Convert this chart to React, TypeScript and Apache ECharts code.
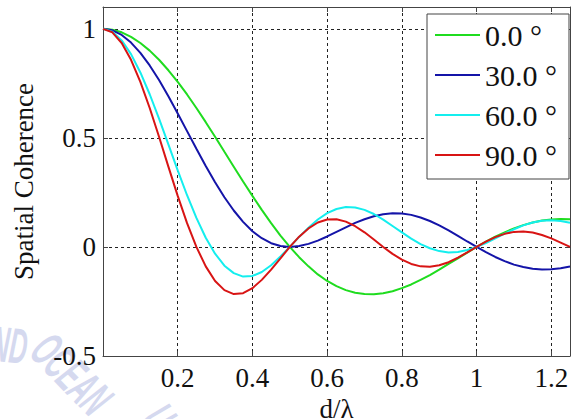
import React, { useEffect, useRef } from "react";
import * as echarts from "echarts";

const dLambda = [
  0, 0.025, 0.05, 0.075, 0.1, 0.125, 0.15, 0.175, 0.2, 0.225, 0.25, 0.275, 0.3, 0.325, 0.35, 0.375,
  0.4, 0.425, 0.45, 0.475, 0.5, 0.525, 0.55, 0.575, 0.6, 0.625, 0.65, 0.675, 0.7, 0.725, 0.75, 0.775,
  0.8, 0.825, 0.85, 0.875, 0.9, 0.925, 0.95, 0.975, 1.0, 1.025, 1.05, 1.075, 1.1, 1.125, 1.15, 1.175,
  1.2, 1.225, 1.25,
];

const seriesNames = ["0.0 °", "30.0 °", "60.0 °", "90.0 °"];

const coh0 = [
  1, 0.996, 0.984, 0.963, 0.935, 0.9, 0.858, 0.81, 0.757, 0.699, 0.637, 0.572, 0.505, 0.436, 0.368, 0.3,
  0.234, 0.17, 0.109, 0.052, 0, -0.047, -0.089, -0.126, -0.156, -0.18, -0.198, -0.21, -0.216, -0.217, -0.212, -0.203,
  -0.189, -0.172, -0.151, -0.129, -0.104, -0.078, -0.052, -0.026, 0, 0.024, 0.047, 0.067, 0.085, 0.1, 0.112, 0.121,
  0.126, 0.128, 0.127,
];

const coh30 = [
  1, 0.993, 0.972, 0.937, 0.89, 0.832, 0.765, 0.691, 0.612, 0.531, 0.45, 0.371, 0.297, 0.228, 0.167, 0.115,
  0.072, 0.04, 0.017, 0.004, 0, 0.004, 0.014, 0.029, 0.048, 0.069, 0.09, 0.11, 0.127, 0.141, 0.15, 0.154,
  0.153, 0.147, 0.135, 0.119, 0.099, 0.076, 0.051, 0.025, 0, -0.024, -0.046, -0.065, -0.081, -0.092, -0.1, -0.103,
  -0.102, -0.098, -0.09,
];

const coh60 = [
  1, 0.987, 0.947, 0.884, 0.8, 0.7, 0.588, 0.47, 0.351, 0.237, 0.133, 0.042, -0.031, -0.086, -0.12, -0.136,
  -0.133, -0.115, -0.084, -0.044, 0, 0.046, 0.088, 0.126, 0.155, 0.174, 0.183, 0.181, 0.17, 0.151, 0.125, 0.096,
  0.067, 0.038, 0.013, -0.006, -0.019, -0.025, -0.023, -0.014, 0, 0.018, 0.039, 0.061, 0.081, 0.099, 0.112, 0.12,
  0.122, 0.119, 0.111,
];

const coh90 = [
  1, 0.984, 0.935, 0.858, 0.757, 0.637, 0.505, 0.368, 0.234, 0.109, 0, -0.089, -0.156, -0.198, -0.216, -0.212,
  -0.189, -0.151, -0.104, -0.052, 0, 0.047, 0.085, 0.112, 0.126, 0.127, 0.116, 0.095, 0.067, 0.034, 0, -0.032,
  -0.058, -0.078, -0.089, -0.091, -0.084, -0.07, -0.049, -0.025, 0, 0.024, 0.045, 0.06, 0.069, 0.071, 0.066, 0.055,
  0.039, 0.02, 0,
];

const seriesValues = [coh0, coh30, coh60, coh90];
const seriesColors = ["#1fdc1f", "#1414a8", "#14eeee", "#d81414"];

const FONT = "Liberation Serif";

export default function App() {
  const ref = useRef<HTMLDivElement>(null);

  useEffect(() => {
    if (!ref.current) return;
    const chart = echarts.init(ref.current, undefined, { renderer: "svg" });

    const wmStyle = (text: string) => ({
      text,
      fill: "#d5d9ef",
      fontFamily: "Liberation Sans",
      fontSize: 50,
      fontWeight: "bold",
      fontStyle: "italic",
    });
    const option: any = {
      animation: false,
      backgroundColor: "#ffffff",
      textStyle: { fontFamily: FONT },
      graphic: [
        { type: "text", x: -6, y: 318, z: -10, scaleX: 0.5, rotation: -0.1, style: wmStyle("ND") },
        { type: "text", x: 58, y: 324, z: -10, rotation: -0.8, scaleX: 0.5, style: wmStyle("OCEAN") },
        { type: "text", x: 174, y: 396, z: -10, rotation: -0.95, scaleX: 0.5, style: wmStyle("U") },
      ],
      grid: { left: 103, top: 7, width: 467, height: 349, containLabel: false, outerBoundsMode: "none", show: false },
      legend: {
        orient: "vertical",
        left: 427,
        top: 14,
        data: seriesNames,
        icon: "rect",
        itemWidth: 45,
        itemHeight: 2,
        itemGap: 10,
        padding: [6, 12, 9, 8],
        backgroundColor: "#ffffff",
        borderColor: "#444444",
        borderWidth: 1,
        borderRadius: 0,
        textStyle: { fontFamily: FONT, fontSize: 30, color: "#111111", lineHeight: 30 },
      },
      xAxis: [
        {
          type: "value",
          min: 0,
          max: 1.25,
          interval: 0.2,
          position: "bottom",
          name: "d/λ",
          nameLocation: "middle",
          nameGap: 31,
          nameTextStyle: { fontFamily: FONT, fontSize: 27, color: "#111111" },
          axisLine: { show: true, onZero: false, lineStyle: { color: "#444444", width: 1 } },
          axisTick: { show: true, inside: true, length: 5, lineStyle: { color: "#444444" } },
          axisLabel: { fontFamily: FONT, fontSize: 27, color: "#111111", margin: 8, showMinLabel: false, showMaxLabel: false },
          splitLine: { show: true, lineStyle: { color: "#222222", type: [3, 3], width: 1 } },
        },
        {
          type: "value",
          min: 0,
          max: 1.25,
          interval: 0.2,
          position: "top",
          axisLine: { show: true, onZero: false, lineStyle: { color: "#444444", width: 1 } },
          axisTick: { show: true, inside: true, length: 5, lineStyle: { color: "#444444" } },
          axisLabel: { show: false },
          splitLine: { show: false },
        },
      ],
      yAxis: [
        {
          type: "value",
          min: -0.5,
          max: 1.1,
          interval: 0.5,
          position: "left",
          name: "Spatial Coherence",
          nameLocation: "middle",
          nameGap: 66,
          nameRotate: 90,
          nameTextStyle: { fontFamily: FONT, fontSize: 27, color: "#111111" },
          axisLine: { show: true, onZero: false, lineStyle: { color: "#444444", width: 1 } },
          axisTick: { show: true, inside: true, length: 5, lineStyle: { color: "#444444" } },
          axisLabel: { fontFamily: FONT, fontSize: 27, color: "#111111", margin: 7, showMaxLabel: false },
          splitLine: { show: true, lineStyle: { color: "#222222", type: [3, 3], width: 1 } },
        },
        {
          type: "value",
          min: -0.5,
          max: 1.1,
          interval: 0.5,
          position: "right",
          axisLine: { show: true, onZero: false, lineStyle: { color: "#444444", width: 1 } },
          axisTick: { show: true, inside: true, length: 5, lineStyle: { color: "#444444" } },
          axisLabel: { show: false },
          splitLine: { show: false },
        },
      ],
      series: seriesNames.map((name, i) => ({
        name,
        type: "line",
        xAxisIndex: 0,
        yAxisIndex: 0,
        data: dLambda.map((d, j) => [d, seriesValues[i][j]]),
        showSymbol: false,
        symbol: "none",
        smooth: false,
        color: seriesColors[i],
        lineStyle: { color: seriesColors[i], width: 2 },
        z: 3,
      })),
    };

    chart.setOption(option);
    return () => chart.dispose();
  }, []);

  return <div ref={ref} style={{ width: 577, height: 419, position: "absolute", left: 0, top: 0 }} />;
}
